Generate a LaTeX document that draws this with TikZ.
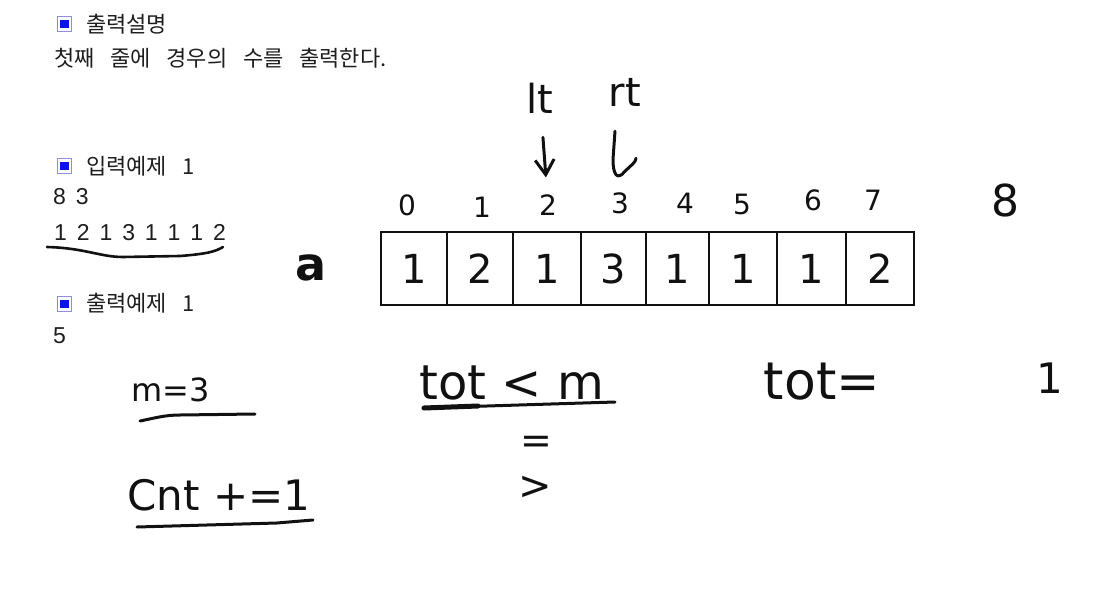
\documentclass[tikz,border=0pt]{standalone}
\usepackage{fontspec}
\usetikzlibrary{arrows.meta}
\newfontfamily\krfont{Noto Sans CJK KR}[WordSpace=3.2]
\newfontfamily\printfont{Liberation Sans}
\newfontfamily\handfont{DejaVu Sans}
\definecolor{ink}{HTML}{111111}
\definecolor{prt}{HTML}{1E1E1E}
\definecolor{iconblue}{HTML}{0A14E6}
\definecolor{iconedge}{HTML}{8C8CE6}
\newcommand\myfs[1]{\fontsize{#1}{#1}\selectfont}
\newcommand\dgap{\hspace{9.9pt}}
\tikzset{
  icon/.style={draw=iconedge, line width=1.4pt, fill=white, inner sep=0pt, minimum size=14.5pt,
    path picture={\fill[iconblue] ([shift={(2.8pt,-2.8pt)}]path picture bounding box.north west)
      rectangle ([shift={(-2.8pt,2.8pt)}]path picture bounding box.south east);}},
  kr/.style={anchor=west, inner sep=0pt, text=prt, font=\krfont\myfs{22}},
  pdig/.style={anchor=west, inner sep=0pt, text=prt, font=\printfont\myfs{23}},
  hand/.style={inner sep=0pt, text=ink, font=\handfont\myfs{#1}},
  hand/.default=40,
  cell/.style={draw=ink, line width=2.4pt, inner sep=0pt, minimum height=73pt, text=ink, font=\handfont\myfs{40}},
  stroke/.style={draw=ink, line width=3pt, line cap=round, line join=round},
  harrow/.style={stroke, -{Straight Barb[length=15pt,width=19pt]}},
}
\begin{document}
\begin{tikzpicture}[x=1pt,y=-1pt]
\useasboundingbox[fill=white] (0,0) rectangle (1106,602);

% printed problem text
\node[icon] (ic1) at (64.5,24) {};
\node[kr] (h1) at (86,24) {출력설명};
\node[kr] (l1) at (54,58) {첫째 줄에 경우의 수를 출력한다.};
\node[icon] (ic2) at (64.5,166) {};
\node[kr] (h2) at (86,166) {입력예제 1};
\node[pdig] (in1) at (53,197) {8\dgap 3};
\node[pdig] (in2) at (54,233) {1\dgap 2\dgap 1\dgap 3\dgap 1\dgap 1\dgap 1\dgap 2};
\node[icon] (ic3) at (64.5,304) {};
\node[kr] (h3) at (86,303) {출력예제 1};
\node[pdig] (out1) at (53,336) {5};
\draw[stroke, line width=2.6pt] (47,247) .. controls (85,248) and (100,257) .. (123,257)
  -- (180,256) .. controls (205,254) and (215,252) .. (223,247);

% array
\node[hand=48, font=\handfont\bfseries\myfs{46}] (a) at (311,268) {a};
\node[cell, minimum width=66pt] (c0) at (414,268.5) {1};
\node[cell, minimum width=66pt] (c1) at (480,268.5) {2};
\node[cell, minimum width=68pt] (c2) at (547,268.5) {1};
\node[cell, minimum width=65pt] (c3) at (613.5,268.5) {3};
\node[cell, minimum width=63pt] (c4) at (677.5,268.5) {1};
\node[cell, minimum width=68pt] (c5) at (743,268.5) {1};
\node[cell, minimum width=69pt] (c6) at (811.5,268.5) {1};
\node[cell, minimum width=68pt] (c7) at (880,268.5) {2};

% indices
\node[hand=28] (i0) at (407,205) {0};
\node[hand=28] (i1) at (482,207) {1};
\node[hand=28] (i2) at (548,205) {2};
\node[hand=28] (i3) at (620,203) {3};
\node[hand=28] (i4) at (685,203) {4};
\node[hand=28] (i5) at (742,204) {5};
\node[hand=28] (i6) at (813,200) {6};
\node[hand=28] (i7) at (873,200) {7};
\node[hand=44] (i8) at (1005,200) {8};

% pointers
\node[hand=40] (lt) at (540,98) {lt};
\node[hand=40] (rt) at (625,92) {rt};
\draw[harrow, shorten <=24pt, shorten >=17pt] (lt) -- (i2);
\draw[stroke] ([shift={(-10pt,-25pt)}]rt.south) -- ++(-2,28)
  .. controls ++(0,15) and ++(-8,10) .. ++(12,12)
  .. controls ++(6,-6) and ++(0,4) .. ++(11,-13);

% bottom notes
\node[hand=32] (m3) at (171,390) {m=3};
\draw[stroke] (140,421) .. controls (155,418) and (165,415) .. (180,415) -- (255,414);
\node[hand=42] (cnt) at (219,495) {Cnt +=1};
\draw[stroke] (137,527) -- (277,523) -- (313,520);
\node[hand=48] (cond) at (512,383) {tot < m};
\draw[stroke] (423,408) -- (615,402);
\draw[stroke, line width=5pt] (424,408) -- (478,406);
\node[hand=38] (eq) at (536,445) {=};
\node[hand=40] (gt) at (535,488) {>};
\node[hand=52] (tot) at (822,382) {tot=};
\node[hand=42] (one) at (1050,378) {1};
\end{tikzpicture}
\end{document}
